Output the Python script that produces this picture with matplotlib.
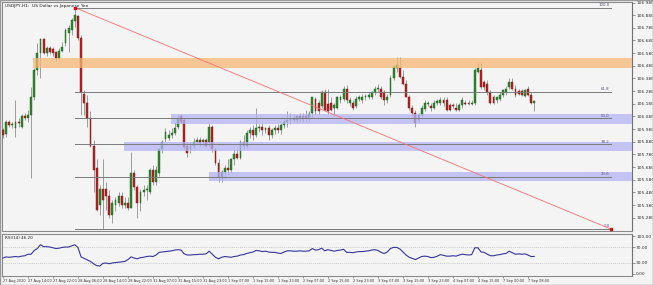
import matplotlib
matplotlib.use("Agg")
import matplotlib.pyplot as plt
from matplotlib.patches import Rectangle

# ---------------- data (USDJPY H1) ----------------
opens = [105.97,105.94,106.04,106.01,105.99,106.04,106.00,106.08,106.07,106.09,
         106.23,106.45,106.58,106.69,106.58,106.62,106.61,106.59,106.54,106.60,
         106.66,106.74,106.76,106.83,106.87,106.70,106.26,106.19,106.07,105.85,
         105.67,105.38,105.51,105.51,105.45,105.30,105.38,105.40,105.45,105.38,
         105.40,105.36,105.63,105.52,105.40,105.48,105.50,105.48,105.66,105.56,
         105.63,105.82,105.90,105.91,105.93,105.95,106.00,106.08,106.05,105.85,
         105.82,105.85,105.88,105.89,105.88,105.89,105.88,106.00,105.82,105.71,
         105.59,105.64,105.67,105.66,105.74,105.78,105.75,105.88,105.85,105.95,
         105.97,105.93,105.99,106.00,105.97,105.99,105.93,105.97,105.99,105.97,
         106.01,106.04,106.05,106.07,106.05,106.08,106.06,106.08,106.07,106.11,
         106.22,106.19,106.16,106.27,106.18,106.19,106.15,106.15,106.21,106.22,
         106.30,106.19,106.19,106.16,106.22,106.21,106.23,106.23,106.23,106.27,
         106.30,106.30,106.27,106.21,106.25,106.38,106.46,106.46,106.39,106.34,
         106.23,106.15,106.11,106.05,106.09,106.14,106.18,106.16,106.15,106.19,
         106.19,106.21,106.21,106.17,106.17,106.15,106.13,106.17,106.19,106.19,
         106.18,106.19,106.43,106.45,106.35,106.34,106.27,106.23,106.21,106.22,
         106.25,106.27,106.31,106.35,106.30,106.28,106.28,106.24,106.30,106.25,
         106.19]
highs = [105.99,106.05,106.05,106.04,106.21,106.07,106.10,106.11,106.13,106.31,
         106.46,106.66,106.70,106.70,106.64,106.64,106.63,106.60,106.62,106.67,
         106.78,106.80,106.86,106.94,106.88,106.72,106.29,106.25,106.12,105.89,
         105.74,105.54,105.74,105.56,105.50,105.42,105.44,105.48,105.48,105.44,
         105.44,105.80,105.66,105.54,105.51,105.54,105.54,105.67,105.70,105.69,
         105.83,105.89,105.99,105.97,105.99,106.04,106.09,106.10,106.07,105.88,
         105.88,105.91,105.92,105.92,105.91,105.91,106.03,106.01,105.83,105.74,
         105.66,105.70,105.74,105.75,105.82,105.82,105.89,105.93,105.97,106.00,
         106.01,106.15,106.02,106.04,106.00,106.01,105.99,106.01,106.02,106.03,
         106.07,106.12,106.11,106.10,106.09,106.11,106.11,106.13,106.12,106.23,
         106.23,106.21,106.29,106.30,106.30,106.23,106.19,106.24,106.25,106.32,
         106.33,106.23,106.21,106.24,106.25,106.26,106.26,106.27,106.28,106.32,
         106.34,106.32,106.29,106.26,106.41,106.49,106.55,106.55,106.45,106.37,
         106.25,106.17,106.13,106.11,106.17,106.21,106.20,106.19,106.21,106.22,
         106.23,106.23,106.23,106.19,106.19,106.19,106.19,106.23,106.21,106.21,
         106.21,106.46,106.50,106.50,106.37,106.37,106.29,106.25,106.23,106.27,
         106.30,106.32,106.38,106.38,106.33,106.30,106.30,106.30,106.32,106.27,
         106.21]
lows = [105.91,105.92,106.00,105.99,105.92,106.00,105.99,106.05,106.04,105.59,
        106.21,106.41,106.38,106.57,106.56,106.57,106.56,106.52,106.53,106.59,
        106.64,106.59,106.72,106.79,106.68,106.09,106.09,106.00,105.84,105.48,
        105.33,105.30,105.19,105.34,105.28,105.24,105.33,105.37,105.36,105.36,
        105.34,105.36,105.50,105.28,105.33,105.45,105.42,105.47,105.54,105.54,
        105.61,105.79,105.88,105.89,105.91,105.93,105.98,106.03,105.82,105.76,
        105.79,105.83,105.86,105.85,105.85,105.84,105.85,105.80,105.70,105.56,
        105.56,105.59,105.62,105.64,105.70,105.74,105.74,105.82,105.83,105.91,
        105.89,105.92,105.96,105.93,105.95,105.89,105.91,105.94,105.95,105.94,
        105.99,106.00,106.02,106.04,106.03,106.04,106.04,106.04,106.04,106.07,
        106.09,106.10,106.15,106.12,106.10,106.12,106.08,106.14,106.19,106.20,
        106.19,106.16,106.13,106.15,106.20,106.19,106.21,106.22,106.22,106.25,
        106.27,106.22,106.17,106.19,106.23,106.37,106.43,106.38,106.33,106.23,
        106.13,106.08,106.00,106.04,106.08,106.12,106.16,106.12,106.14,106.17,
        106.17,106.16,106.12,106.12,106.15,106.12,106.12,106.15,106.17,106.17,
        106.17,106.17,106.42,106.30,106.29,106.25,106.18,106.18,106.19,106.20,
        106.23,106.25,106.30,106.29,106.23,106.25,106.24,106.23,106.24,106.18,
        106.12]
closes = [105.93,106.04,106.01,106.02,106.04,106.03,106.08,106.07,106.09,106.23,
          106.45,106.58,106.69,106.58,106.62,106.59,106.58,106.54,106.60,106.63,
          106.76,106.78,106.84,106.88,106.70,106.27,106.19,106.07,105.85,105.66,
          105.34,105.51,105.42,105.45,105.30,105.40,105.42,105.45,105.38,105.40,
          105.36,105.63,105.52,105.40,105.48,105.50,105.51,105.66,105.56,105.66,
          105.82,105.88,105.96,105.93,105.95,105.99,106.07,106.04,105.84,105.79,
          105.85,105.88,105.89,105.87,105.89,105.85,106.00,105.82,105.71,105.59,
          105.64,105.67,105.66,105.74,105.78,105.75,105.88,105.85,105.95,105.97,
          105.93,105.99,106.00,105.97,105.99,105.93,105.97,105.99,105.97,106.01,
          106.04,106.05,106.07,106.05,106.08,106.06,106.08,106.07,106.10,106.23,
          106.12,106.12,106.27,106.13,106.12,106.13,106.17,106.23,106.23,106.30,
          106.21,106.21,106.15,106.22,106.23,106.23,106.24,106.25,106.27,106.30,
          106.30,106.23,106.21,106.23,106.38,106.47,106.49,106.39,106.34,106.23,
          106.15,106.11,106.03,106.09,106.15,106.19,106.19,106.15,106.19,106.20,
          106.21,106.19,106.13,106.13,106.16,106.13,106.17,106.21,106.18,106.18,
          106.19,106.45,106.46,106.31,106.31,106.27,106.19,106.19,106.23,106.25,
          106.29,106.30,106.35,106.30,106.25,106.26,106.25,106.29,106.25,106.19,
          106.20]
rsi = [42,45,44,45,46,45,47,48,52,52,
       62,67,77,72,72,71,69,67,68,70,
       71,71,74,77,70,45,41,37,33,27,
       22,21,28,29,27,29,30,31,32,33,
       38,45,42,40,43,44,46,47,46,50,
       57,58,59,60,61,63,64,63,53,50,
       50,51,51,52,52,53,60,52,44,40,
       44,46,45,44,46,47,50,51,54,56,
       58,62,61,59,60,58,57,57,55,54,
       58,61,61,60,60,61,60,60,61,67,
       63,64,68,61,64,62,60,62,63,65,
       57,57,56,58,59,59,60,61,63,64,
       62,57,54,58,67,70,70,66,58,50,
       44,41,38,42,46,47,46,43,44,47,
       51,49,47,47,48,47,50,52,51,50,
       51,69,69,58,57,52,48,48,50,51,
       53,54,60,56,52,53,52,53,50,46,
       46.2]

price_ticks = [106.980,106.880,106.780,106.680,106.580,106.480,106.380,106.280,106.180,
               106.080,105.980,105.880,105.780,105.680,105.580,105.480,105.380,105.280]
rsi_ticks = [100, 70, 30, 0]
time_tick_idx = [0,8,16,24,32,40,48,56,64,72,80,88,96,104,112,120,128,136,144,152,160,168]
time_tick_labels = ["27 Aug 2020","27 Aug 14:00","27 Aug 22:00","28 Aug 06:00","28 Aug 14:00",
                    "28 Aug 22:00","31 Aug 07:00","31 Aug 15:00","31 Aug 23:00","1 Sep 07:00",
                    "1 Sep 15:00","1 Sep 23:00","2 Sep 07:00","2 Sep 15:00","2 Sep 23:00",
                    "3 Sep 07:00","3 Sep 15:00","3 Sep 23:00","4 Sep 07:00","4 Sep 15:00",
                    "7 Sep 00:00","7 Sep 08:00"]

# Fibonacci drawing: swing high (bar 23) to the end point at bar 194.6
fib_high_bar, fib_high = 23, 106.94
fib_low_bar, fib_low = 194.6, 105.19
fib_levels = [100.0, 61.8, 50.0, 38.2, 23.6, 0.0]

# supply / demand zones: (start bar, lower price, upper price)
orange_zone = (9.6, 106.46, 106.54)
blue_zones = [(53.8, 106.02, 106.10), (38.7, 105.81, 105.88), (65.9, 105.57, 105.64)]

title = "USDJPY,H1:  US Dollar vs Japanese Yen"
rsi_title = "RSI(14) 46.20"

# ---------------- figure ----------------
W, H = 653, 285
BG = "#F4F4F4"
fig = plt.figure(figsize=(W / 100, H / 100), dpi=100, facecolor=BG)

def rect(x0, y0, x1, y1):
    return [x0 / W, (H - y1) / H, (x1 - x0) / W, (y1 - y0) / H]

ax = fig.add_axes(rect(2, 2, 632, 231), facecolor=BG)
axr = fig.add_axes(rect(2, 234, 632, 276), facecolor=BG, sharex=ax)

n = len(closes)
xs = list(range(n))
up_col, up_edge = "#2D8A2D", "#1E5E1E"
dn_col, dn_edge = "#B42424", "#7A1515"

ax.vlines(xs, lows, highs, colors="#8E8E8E", linewidth=0.6, zorder=2)
for i in xs:
    o, c = opens[i], closes[i]
    lo, hi = min(o, c), max(o, c)
    h = max(hi - lo, 0.004)
    up = c >= o
    ax.add_patch(Rectangle((i - 0.3, lo), 0.6, h,
                           facecolor=up_col if up else dn_col,
                           edgecolor=up_edge if up else dn_edge,
                           linewidth=0.3, zorder=3))

x_left, x_right = -0.3, 201.3
ax.set_xlim(x_left, x_right)
ax.set_ylim(105.175, 106.984)

# zones
z0, zl, zh = orange_zone
ax.add_patch(Rectangle((z0, zl), x_right - z0, zh - zl, facecolor="#F8B774",
                       edgecolor="none", alpha=0.75, zorder=4))
for (b0, lo, hi) in blue_zones:
    ax.add_patch(Rectangle((b0, lo), x_right - b0, hi - lo, facecolor="#B4B4F4",
                           edgecolor="none", alpha=0.75, zorder=4))

# fib levels
rng = fib_high - fib_low
for lv in fib_levels:
    p = fib_low + rng * lv / 100.0
    ax.plot([fib_high_bar, fib_low_bar], [p, p], color="#7A7A7A", linewidth=0.7, zorder=5)
    ax.text(fib_low_bar - 0.5, p + 0.006, f"{lv:.1f}", fontsize=2.8, color="#555577",
            ha="right", va="bottom", zorder=6)

ax.plot([fib_high_bar, fib_low_bar], [fib_high, fib_low], color="#FF6E6E",
        linewidth=0.6, zorder=6)
ax.plot([fib_high_bar, fib_low_bar], [fib_high, fib_low], linestyle="none",
        marker="s", markersize=1.6, color="#D01010", zorder=7)

ax.text(0.004, 0.992, title, transform=ax.transAxes, fontsize=3.2, color="#222222",
        ha="left", va="top", zorder=8)

# axes styling
for a in (ax, axr):
    for s in a.spines.values():
        s.set_color("#8A8A8A")
        s.set_linewidth(0.8)
    a.spines["right"].set_color("#707070")
    a.yaxis.tick_right()
    a.tick_params(axis="y", length=2, width=0.5, colors="#707070", labelsize=3.2,
                  labelcolor="#333333", pad=1)

ax.set_yticks(price_ticks)
ax.set_yticklabels([f"{v:.3f}" for v in price_ticks])
ax.tick_params(axis="x", bottom=False, labelbottom=False)

# RSI panel
axr.plot(xs, rsi, color="#35359A", linewidth=0.8, zorder=3)
axr.set_ylim(-5.3, 105.3)
for lv in (70, 30):
    axr.axhline(lv, color="#BDBDBD", linewidth=0.5, linestyle=(0, (1.5, 1.5)), zorder=1)
axr.set_yticks(rsi_ticks)
axr.set_yticklabels([f"{v:.2f}" for v in rsi_ticks])
axr.text(0.004, 0.96, rsi_title, transform=axr.transAxes, fontsize=3.0, color="#222222",
         ha="left", va="top")
axr.set_xticks(time_tick_idx)
axr.set_xticklabels(time_tick_labels, ha="left")
axr.tick_params(axis="x", length=1.5, width=0.5, colors="#707070", labelsize=2.55,
                labelcolor="#333333", pad=0.6)

# outer border
fig.add_artist(Rectangle((0, 0), 1, 1, transform=fig.transFigure, fill=False,
                         edgecolor="#9A9A9A", linewidth=1.0))

fig.savefig("out.png", dpi=100, facecolor=BG)
